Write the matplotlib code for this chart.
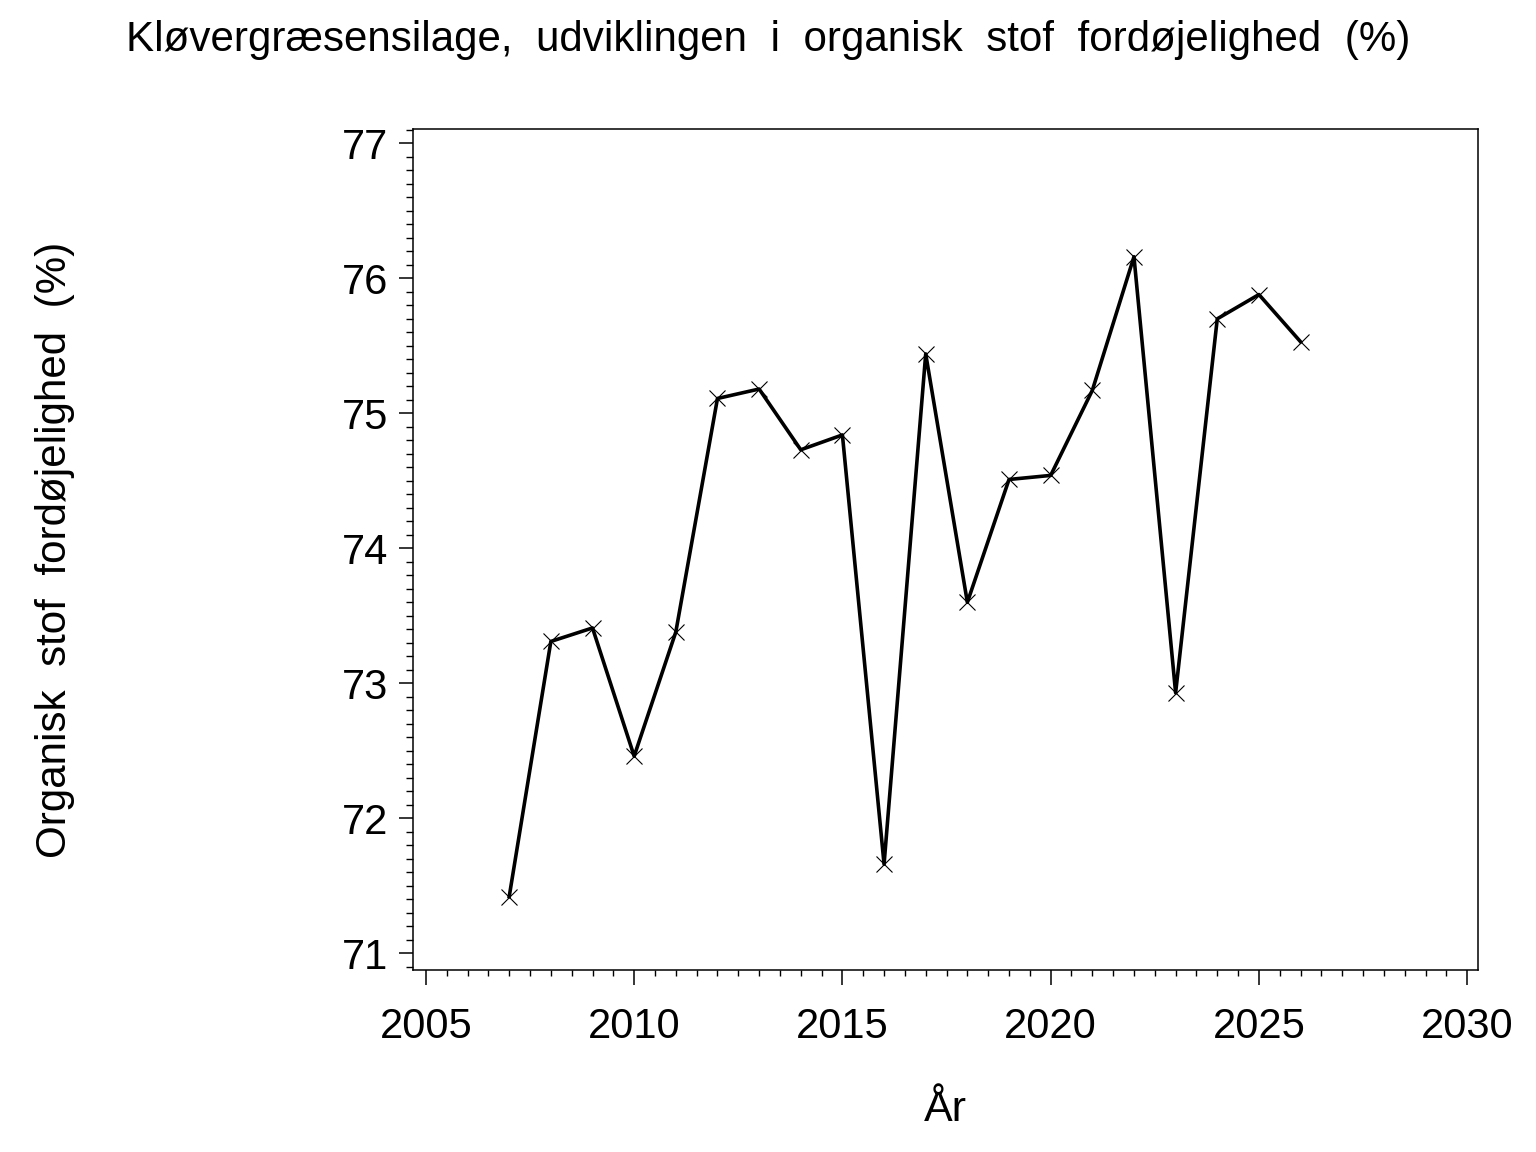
import numpy as np
import matplotlib
matplotlib.use("Agg")
import matplotlib.pyplot as plt
from matplotlib.ticker import MultipleLocator

plt.rcParams['font.family'] = ['Liberation Sans', 'DejaVu Sans']

years = [2007, 2008, 2009, 2010, 2011, 2012, 2013, 2014, 2015, 2016,
         2017, 2018, 2019, 2020, 2021, 2022, 2023, 2024, 2025, 2026]
osf = [71.42, 73.31, 73.41, 72.46, 73.38, 75.11, 75.18, 74.73, 74.84, 71.66,
       75.44, 73.60, 74.51, 74.54, 75.17, 76.16, 72.93, 75.70, 75.88, 75.53]

title = 'Kløvergræsensilage,  udviklingen  i  organisk  stof  fordøjelighed  (%)'
xlab = 'År'
ylab = 'Organisk  stof  fordøjelighed  (%)'

fig = plt.figure(figsize=(15.36, 11.52), dpi=100)
ax = fig.add_axes([413/1536, 1 - 970/1152, (1478-413)/1536, (970-128.5)/1152])

ax.plot(years, osf, color='black', lw=2.6, marker='x', markersize=11.5,
        markeredgewidth=0.8)

ax.set_xlim(2004.69, 2030.26)
ax.set_ylim(70.876, 77.11)
ax.xaxis.set_major_locator(MultipleLocator(5))
ax.xaxis.set_minor_locator(MultipleLocator(0.5))
ax.yaxis.set_major_locator(MultipleLocator(1))
ax.yaxis.set_minor_locator(MultipleLocator(0.1))

ax.tick_params(which='major', direction='out', length=11, width=1.1,
               labelsize=30, pad=16)
ax.tick_params(which='minor', direction='out', length=4.5, width=1.0)
ax.tick_params(axis='y', which='major', length=10, pad=8)
ax.tick_params(axis='y', which='minor', length=5)
ax.tick_params(top=False, right=False)
for s in ax.spines.values():
    s.set_linewidth(1.1)

ax.set_xlabel(xlab, fontsize=31, va='center')
ax.xaxis.set_label_coords(0.5, (970 - 1110) / 841.5)
ax.set_ylabel(ylab, fontsize=30.3, va='center')
ax.yaxis.set_label_coords((55 - 413) / 1065, (970 - 550) / 841.5)

fig.text(0.5, 1 - 40/1152, title, fontsize=30.3, ha='center', va='center')

fig.savefig('out.png', dpi=100)
